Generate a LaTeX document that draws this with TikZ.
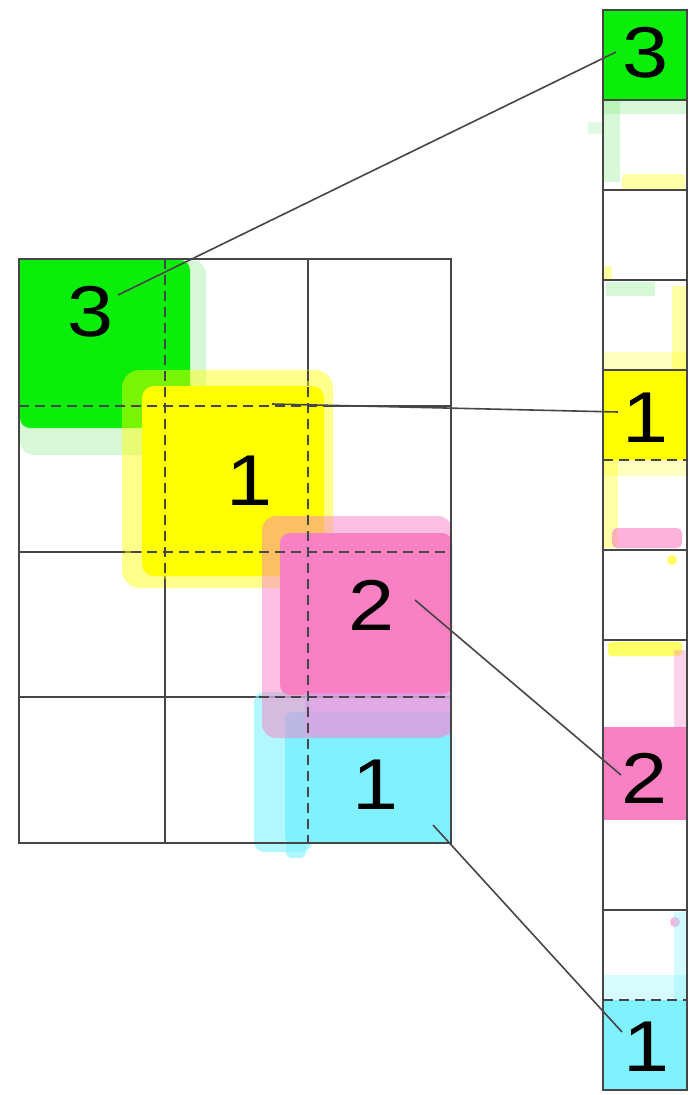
\documentclass[tikz,border=0pt]{standalone}
\usepackage{fontspec}
\setmainfont[FakeStretch=1.15]{Liberation Sans}
\definecolor{gridc}{RGB}{70,70,70}
\definecolor{gr}{RGB}{10,238,10}
\definecolor{grL}{RGB}{140,235,140}
\definecolor{ye}{RGB}{255,255,0}
\definecolor{pk}{RGB}{250,128,196}
\definecolor{cy}{RGB}{128,242,255}
\definecolor{mix}{RGB}{215,165,230}
\begin{document}
\begin{tikzpicture}[x=1pt,y=-1pt,
  gridline/.style={draw=gridc,line width=2.2pt},
  dashline/.style={draw=gridc,line width=2.2pt,dash pattern=on 10pt off 6pt},
  num/.style={font=\fontsize{72}{72}\selectfont,text=black,inner sep=1pt},
  conn/.style={draw=gridc,line width=1.6pt},
  fringe/.style={opacity=0.35}]
\useasboundingbox (0,0) rectangle (700,1095);
\fill[white] (0,0) rectangle (700,1095);

% ---------- left grid: solid lines underneath ----------
\foreach \x in {165,308} \draw[gridline] (\x,259) -- (\x,843);
\foreach \y in {406,552,697} \draw[gridline] (19,\y) -- (451,\y);

% ---------- blobs ----------
% green
\fill[grL,fringe,rounded corners=14pt] (20,260) -- (206,260) -- (206,420) -- (180,455) -- (20,455) -- cycle;
\fill[gr,rounded corners=10pt] (20,260) -- (190,260) -- (190,405) -- (170,428) -- (20,428) -- cycle;
\fill[gr] (20,260) rectangle (165,406);
% yellow
\fill[ye,opacity=0.45,rounded corners=18pt] (122,370) rectangle (333,588);
\fill[ye,rounded corners=12pt] (142,386) rectangle (324,576);
% cyan
\fill[cy,opacity=0.6,rounded corners=10pt] (254,692) rectangle (312,852);
\fill[cy,opacity=0.6,rounded corners=6pt] (286,840) rectangle (306,858);
\fill[cy,rounded corners=6pt] (285,712) rectangle (452,843);
\fill[cy] (300,720) rectangle (452,843);
% pink
\fill[pk,opacity=0.5,rounded corners=14pt] (262,516) rectangle (452,738);
\fill[pk,rounded corners=10pt] (280,533) rectangle (452,695);
\fill[mix,opacity=0.75] (305,693) rectangle (452,735);

% ---------- dashed grid over blobs, solid border ----------
\foreach \x in {165,308} \draw[dashline] (\x,259) -- (\x,843);
\foreach \y in {406,552,697} \draw[dashline] (19,\y) -- (451,\y);
\draw[gridline] (19,259) rectangle (451,843);

% ---------- right strip ----------
\fill[gr] (603,10) rectangle (687,100);
\fill[ye] (603,370) rectangle (687,460);
\fill[pk] (603,727) rectangle (687,820);
\fill[cy] (603,1000) rectangle (687,1090);
% faint fringes
\fill[grL,fringe] (603,100) rectangle (620,182);
\fill[grL,fringe] (603,100) rectangle (687,114);
\fill[grL,opacity=0.25] (588,122) rectangle (603,134);
\fill[ye,fringe,rounded corners=3pt] (622,174) rectangle (685,190);
\fill[ye,fringe] (603,266) rectangle (612,280);
\fill[grL,fringe] (606,282) rectangle (655,296);
\fill[ye,fringe] (672,286) rectangle (687,370);
\fill[ye,opacity=0.25] (603,352) rectangle (687,370);
\fill[ye,fringe] (603,460) rectangle (618,548);
\fill[ye,opacity=0.25] (603,460) rectangle (687,476);
\fill[pk,opacity=0.6,rounded corners=5pt] (612,528) rectangle (682,548);
\fill[ye,opacity=0.6] (672,560) circle (5);
\fill[ye,opacity=0.6,rounded corners=3pt] (608,642) rectangle (682,656);
\fill[pk,fringe] (674,650) rectangle (687,727);
\fill[pk,opacity=0.6] (675,922) circle (5);
\fill[cy,fringe] (674,912) rectangle (687,1000);
\fill[cy,opacity=0.3] (603,975) rectangle (687,1000);

\foreach \y in {100,190,280,370,550,640,910} \draw[gridline] (603,\y) -- (687,\y);
\draw[dashline] (603,460) -- (687,460);
\draw[dashline] (603,1000) -- (687,1000);
\draw[gridline] (603,10) rectangle (687,1090);

% ---------- numbers ----------
\node[num] (l3) at (91,312) {3};
\node[num] (l1a) at (250,481) {1};
\node[num] (l2) at (372,605) {2};
\node[num] (l1b) at (376,785) {1};
\node[num] (r3) at (646,53) {3};
\node[num] (r1a) at (646,418) {1};
\node[num] (r2) at (645,778) {2};
\node[num] (r1b) at (647,1047) {1};

% ---------- connectors ----------
\coordinate (gA) at (118,295);
\coordinate (gB) at (616,52);
\coordinate (yA) at (272,404);
\coordinate (yB) at (618,412);
\coordinate (pA) at (415,600);
\coordinate (pB) at (621,775);
\coordinate (cA) at (433,825);
\coordinate (cB) at (622,1032);
\draw[conn] (gA) -- (gB);
\draw[conn] (yA) -- (yB);
\draw[conn] (pA) -- (pB);
\draw[conn] (cA) -- (cB);
\end{tikzpicture}
\end{document}
